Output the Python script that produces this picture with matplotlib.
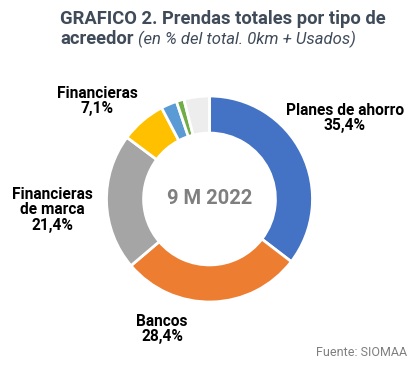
import matplotlib.pyplot as plt

plt.rcParams['font.family'] = ['Roboto', 'DejaVu Sans']

# data
acreedores = ["Planes de ahorro", "Bancos", "Financieras de marca", "Financieras",
              "Otros 1", "Otros 2", "Otros 3"]
shares = [35.4, 28.4, 21.4, 7.1, 2.5, 1.2, 4.0]
colors = ["#4472C4", "#ED7D31", "#A5A5A5", "#FFC000", "#5B9BD5", "#70AD47", "#EDEDED"]

W, H = 417, 365
fig = plt.figure(figsize=(W / 100, H / 100), dpi=100)

cx, cy, r = 209.5, 199, 103
ax = fig.add_axes([(cx - r) / W, (H - cy - r) / H, 2 * r / W, 2 * r / H])
ax.pie(shares, colors=colors, startangle=90, counterclock=False, radius=1,
       wedgeprops=dict(width=0.36, edgecolor="white", linewidth=2))
ax.set_xlim(-1, 1)
ax.set_ylim(-1, 1)
ax.set_aspect("equal")
ax.axis("off")
ax.text(0, 0, "9 M 2022", ha="center", va="center", fontsize=14.5,
        fontweight="bold", color="#7F7F7F")


def px(x, y):
    return x / W, 1 - y / H


title_col = "#404B5A"
fig.text(*px(60, 19), "GRAFICO 2. Prendas totales por tipo de", fontsize=13.2,
         fontweight="bold", color=title_col, va="center", ha="left")
t2 = fig.text(*px(60, 39), "acreedor", fontsize=13.2, fontweight="bold",
              color=title_col, va="center", ha="left")
fig.canvas.draw()
bb = t2.get_window_extent()
fig.text((bb.x1 + 5) / W, 1 - 39 / H, "(en % del total. 0km + Usados)",
         fontsize=12, style="italic", color=title_col, va="center", ha="left")

# labels
lab = dict(fontsize=11.2, fontweight="bold", color="black", ha="center",
           va="center", linespacing=1.05)
fig.text(*px(345, 118), "Planes de ahorro\n35,4%", **lab)
fig.text(*px(162, 329), "Bancos\n28,4%", **lab)
fig.text(*px(52, 210), "Financieras\nde marca\n21,4%", **lab)
fig.text(*px(97, 101), "Financieras\n7,1%", **lab)

fig.text(*px(407, 353), "Fuente: SIOMAA", fontsize=9, color="#7F7F7F",
         ha="right", va="center")

fig.savefig("out.png", dpi=100)
